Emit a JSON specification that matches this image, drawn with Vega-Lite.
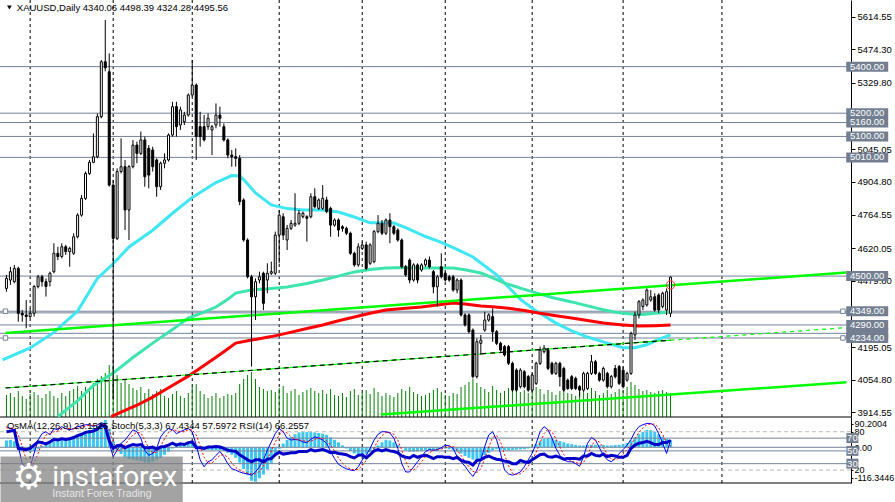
{
"$schema": "https://vega.github.io/schema/vega-lite/v6.json",
"width": 851, "height": 483,
"autosize": {"type": "none"},
"padding": {"left": 0, "top": 0, "right": 44, "bottom": 19},
"background": "#ffffff",
"config": {"view": {"stroke": null}, "font": "Liberation Sans"},
"datasets": {
"bars": [
{"i":-6,"o":4447,"h":4505,"l":4433,"c":4490,"vol":220000,"osma":22,"k":88,"d":86,"rsi":80},
{"i":-5,"o":4483,"h":4540,"l":4462,"c":4519,"vol":240000,"osma":24,"k":85,"d":86,"rsi":81},
{"i":-4,"o":4476,"h":4548,"l":4469,"c":4533,"vol":200000,"osma":20,"k":83,"d":85,"rsi":82},
{"i":-3,"o":4533,"h":4540,"l":4304,"c":4340,"vol":260000,"osma":10,"k":57,"d":75,"rsi":54},
{"i":-2,"o":4340,"h":4354,"l":4304,"c":4333,"vol":210000,"osma":3,"k":30,"d":57,"rsi":53},
{"i":-1,"o":4333,"h":4397,"l":4276,"c":4326,"vol":180000,"osma":-8,"k":22,"d":36,"rsi":52},
{"i":0,"o":4326,"h":4361,"l":4319,"c":4340,"vol":230000,"osma":-14,"k":25,"d":26,"rsi":54},
{"i":1,"o":4340,"h":4462,"l":4326,"c":4455,"vol":250000,"osma":-12,"k":46,"d":31,"rsi":59},
{"i":2,"o":4455,"h":4505,"l":4447,"c":4497,"vol":220000,"osma":-5,"k":67,"d":46,"rsi":64},
{"i":3,"o":4497,"h":4505,"l":4455,"c":4476,"vol":190000,"osma":5,"k":77,"d":63,"rsi":63},
{"i":4,"o":4476,"h":4490,"l":4412,"c":4455,"vol":230000,"osma":10,"k":80,"d":75,"rsi":61},
{"i":5,"o":4476,"h":4519,"l":4455,"c":4512,"vol":260000,"osma":14,"k":75,"d":77,"rsi":64},
{"i":6,"o":4519,"h":4641,"l":4512,"c":4598,"vol":210000,"osma":18,"k":85,"d":80,"rsi":68},
{"i":7,"o":4598,"h":4626,"l":4569,"c":4584,"vol":190000,"osma":20,"k":83,"d":81,"rsi":67},
{"i":8,"o":4584,"h":4641,"l":4576,"c":4626,"vol":240000,"osma":22,"k":88,"d":85,"rsi":69},
{"i":9,"o":4626,"h":4634,"l":4591,"c":4605,"vol":210000,"osma":24,"k":85,"d":85,"rsi":68},
{"i":10,"o":4605,"h":4626,"l":4540,"c":4619,"vol":260000,"osma":26,"k":83,"d":85,"rsi":69},
{"i":11,"o":4598,"h":4684,"l":4591,"c":4669,"vol":280000,"osma":30,"k":85,"d":84,"rsi":71},
{"i":12,"o":4669,"h":4770,"l":4662,"c":4762,"vol":310000,"osma":36,"k":88,"d":85,"rsi":74},
{"i":13,"o":4762,"h":4848,"l":4755,"c":4834,"vol":260000,"osma":42,"k":89,"d":87,"rsi":76},
{"i":14,"o":4834,"h":4949,"l":4827,"c":4941,"vol":300000,"osma":50,"k":91,"d":89,"rsi":79},
{"i":15,"o":4941,"h":4999,"l":4934,"c":4989,"vol":290000,"osma":56,"k":91,"d":90,"rsi":80},
{"i":16,"o":4989,"h":5113,"l":4985,"c":5013,"vol":340000,"osma":62,"k":88,"d":90,"rsi":81},
{"i":17,"o":5013,"h":5199,"l":5006,"c":5185,"vol":380000,"osma":70,"k":91,"d":90,"rsi":84},
{"i":18,"o":5185,"h":5428,"l":5178,"c":5421,"vol":410000,"osma":80,"k":94,"d":91,"rsi":90},
{"i":19,"o":5421,"h":5600,"l":5380,"c":5395,"vol":440000,"osma":88,"k":92,"d":92,"rsi":88},
{"i":20,"o":5378,"h":5457,"l":4884,"c":4891,"vol":520000,"osma":60,"k":62,"d":83,"rsi":66},
{"i":21,"o":4891,"h":4913,"l":3970,"c":4662,"vol":500000,"osma":20,"k":41,"d":65,"rsi":54},
{"i":22,"o":4662,"h":4963,"l":4655,"c":4949,"vol":420000,"osma":-10,"k":51,"d":51,"rsi":58},
{"i":23,"o":4949,"h":5092,"l":4941,"c":4970,"vol":340000,"osma":-22,"k":62,"d":51,"rsi":59},
{"i":24,"o":4970,"h":4999,"l":4698,"c":4784,"vol":380000,"osma":-32,"k":67,"d":60,"rsi":55},
{"i":25,"o":4784,"h":4977,"l":4655,"c":4970,"vol":330000,"osma":-38,"k":75,"d":68,"rsi":58},
{"i":26,"o":4970,"h":5085,"l":4963,"c":5063,"vol":290000,"osma":-40,"k":83,"d":75,"rsi":60},
{"i":27,"o":5063,"h":5078,"l":4985,"c":5027,"vol":270000,"osma":-42,"k":80,"d":79,"rsi":59},
{"i":28,"o":5027,"h":5121,"l":5020,"c":5085,"vol":300000,"osma":-44,"k":70,"d":78,"rsi":60},
{"i":29,"o":5085,"h":5099,"l":4884,"c":4927,"vol":240000,"osma":-48,"k":51,"d":67,"rsi":55},
{"i":30,"o":5049,"h":5063,"l":4877,"c":4934,"vol":280000,"osma":-50,"k":43,"d":55,"rsi":55},
{"i":31,"o":5042,"h":5056,"l":4949,"c":4970,"vol":230000,"osma":-46,"k":46,"d":47,"rsi":56},
{"i":32,"o":4999,"h":5006,"l":4841,"c":4884,"vol":260000,"osma":-40,"k":54,"d":48,"rsi":53},
{"i":33,"o":4884,"h":4992,"l":4870,"c":4985,"vol":280000,"osma":-34,"k":72,"d":57,"rsi":56},
{"i":34,"o":4985,"h":5027,"l":4963,"c":4999,"vol":210000,"osma":-24,"k":80,"d":69,"rsi":57},
{"i":35,"o":4999,"h":5113,"l":4992,"c":5106,"vol":190000,"osma":-14,"k":85,"d":79,"rsi":59},
{"i":36,"o":5106,"h":5249,"l":5099,"c":5228,"vol":230000,"osma":-4,"k":83,"d":83,"rsi":62},
{"i":37,"o":5228,"h":5249,"l":5099,"c":5142,"vol":260000,"osma":4,"k":77,"d":82,"rsi":59},
{"i":38,"o":5149,"h":5228,"l":5128,"c":5214,"vol":210000,"osma":10,"k":80,"d":80,"rsi":61},
{"i":39,"o":5163,"h":5206,"l":5149,"c":5192,"vol":190000,"osma":14,"k":83,"d":80,"rsi":60},
{"i":40,"o":5192,"h":5285,"l":5185,"c":5278,"vol":240000,"osma":16,"k":85,"d":83,"rsi":63},
{"i":41,"o":5278,"h":5428,"l":5271,"c":5321,"vol":310000,"osma":18,"k":80,"d":83,"rsi":64},
{"i":42,"o":5321,"h":5328,"l":4999,"c":5099,"vol":330000,"osma":8,"k":59,"d":75,"rsi":55},
{"i":43,"o":5142,"h":5206,"l":5056,"c":5099,"vol":260000,"osma":-2,"k":36,"d":58,"rsi":55},
{"i":44,"o":5142,"h":5192,"l":5078,"c":5085,"vol":230000,"osma":-6,"k":25,"d":40,"rsi":54},
{"i":45,"o":5142,"h":5199,"l":5128,"c":5178,"vol":190000,"osma":-8,"k":33,"d":31,"rsi":56},
{"i":46,"o":5128,"h":5149,"l":5020,"c":5142,"vol":210000,"osma":-10,"k":36,"d":31,"rsi":56},
{"i":47,"o":5149,"h":5242,"l":5135,"c":5192,"vol":240000,"osma":-9,"k":43,"d":37,"rsi":57},
{"i":48,"o":5192,"h":5228,"l":5142,"c":5178,"vol":190000,"osma":-10,"k":49,"d":43,"rsi":56},
{"i":49,"o":5142,"h":5156,"l":5078,"c":5085,"vol":210000,"osma":-12,"k":41,"d":44,"rsi":54},
{"i":50,"o":5085,"h":5092,"l":5006,"c":5020,"vol":230000,"osma":-18,"k":30,"d":40,"rsi":51},
{"i":51,"o":5020,"h":5042,"l":4970,"c":5013,"vol":220000,"osma":-24,"k":22,"d":31,"rsi":50},
{"i":52,"o":5013,"h":5049,"l":4970,"c":5006,"vol":240000,"osma":-34,"k":20,"d":24,"rsi":49},
{"i":53,"o":5006,"h":5020,"l":4805,"c":4820,"vol":330000,"osma":-50,"k":17,"d":20,"rsi":44},
{"i":54,"o":4827,"h":4834,"l":4648,"c":4655,"vol":380000,"osma":-70,"k":15,"d":17,"rsi":40},
{"i":55,"o":4655,"h":4662,"l":4490,"c":4497,"vol":420000,"osma":-90,"k":14,"d":15,"rsi":36},
{"i":56,"o":4497,"h":4505,"l":4111,"c":4411,"vol":450000,"osma":-108,"k":12,"d":14,"rsi":33},
{"i":57,"o":4411,"h":4490,"l":4311,"c":4476,"vol":380000,"osma":-111,"k":17,"d":14,"rsi":36},
{"i":58,"o":4483,"h":4519,"l":4469,"c":4497,"vol":300000,"osma":-100,"k":25,"d":18,"rsi":36},
{"i":59,"o":4512,"h":4519,"l":4354,"c":4383,"vol":280000,"osma":-88,"k":36,"d":26,"rsi":33},
{"i":60,"o":4483,"h":4555,"l":4426,"c":4512,"vol":260000,"osma":-72,"k":51,"d":37,"rsi":37},
{"i":61,"o":4512,"h":4562,"l":4505,"c":4519,"vol":270000,"osma":-52,"k":64,"d":50,"rsi":38},
{"i":62,"o":4512,"h":4691,"l":4505,"c":4676,"vol":250000,"osma":-25,"k":77,"d":64,"rsi":44},
{"i":63,"o":4676,"h":4784,"l":4555,"c":4762,"vol":290000,"osma":-5,"k":85,"d":75,"rsi":48},
{"i":64,"o":4755,"h":4770,"l":4655,"c":4676,"vol":310000,"osma":12,"k":80,"d":81,"rsi":45},
{"i":65,"o":4655,"h":4720,"l":4612,"c":4705,"vol":240000,"osma":24,"k":70,"d":78,"rsi":46},
{"i":66,"o":4705,"h":4741,"l":4698,"c":4727,"vol":260000,"osma":34,"k":67,"d":72,"rsi":47},
{"i":67,"o":4719,"h":4856,"l":4712,"c":4727,"vol":280000,"osma":42,"k":68,"d":68,"rsi":47},
{"i":68,"o":4727,"h":4784,"l":4719,"c":4770,"vol":220000,"osma":48,"k":67,"d":67,"rsi":49},
{"i":69,"o":4755,"h":4777,"l":4748,"c":4770,"vol":250000,"osma":50,"k":64,"d":66,"rsi":49},
{"i":70,"o":4755,"h":4762,"l":4648,"c":4748,"vol":270000,"osma":49,"k":63,"d":65,"rsi":49},
{"i":71,"o":4755,"h":4856,"l":4748,"c":4841,"vol":290000,"osma":50,"k":68,"d":65,"rsi":52},
{"i":72,"o":4841,"h":4877,"l":4791,"c":4798,"vol":260000,"osma":48,"k":72,"d":68,"rsi":50},
{"i":73,"o":4791,"h":4834,"l":4784,"c":4827,"vol":240000,"osma":46,"k":70,"d":70,"rsi":51},
{"i":74,"o":4791,"h":4891,"l":4784,"c":4834,"vol":270000,"osma":44,"k":67,"d":70,"rsi":52},
{"i":75,"o":4827,"h":4841,"l":4770,"c":4777,"vol":230000,"osma":40,"k":62,"d":66,"rsi":50},
{"i":76,"o":4791,"h":4798,"l":4669,"c":4719,"vol":280000,"osma":32,"k":49,"d":59,"rsi":47},
{"i":77,"o":4719,"h":4748,"l":4712,"c":4741,"vol":220000,"osma":24,"k":38,"d":50,"rsi":48},
{"i":78,"o":4741,"h":4748,"l":4669,"c":4698,"vol":210000,"osma":16,"k":29,"d":39,"rsi":46},
{"i":79,"o":4712,"h":4719,"l":4691,"c":4705,"vol":240000,"osma":6,"k":25,"d":31,"rsi":45},
{"i":80,"o":4705,"h":4712,"l":4676,"c":4684,"vol":200000,"osma":-4,"k":22,"d":25,"rsi":44},
{"i":81,"o":4684,"h":4691,"l":4591,"c":4598,"vol":260000,"osma":-12,"k":20,"d":22,"rsi":41},
{"i":82,"o":4598,"h":4605,"l":4540,"c":4548,"vol":280000,"osma":-20,"k":19,"d":20,"rsi":39},
{"i":83,"o":4548,"h":4641,"l":4540,"c":4626,"vol":220000,"osma":-24,"k":25,"d":21,"rsi":43},
{"i":84,"o":4619,"h":4648,"l":4612,"c":4634,"vol":240000,"osma":-25,"k":36,"d":27,"rsi":44},
{"i":85,"o":4634,"h":4648,"l":4526,"c":4533,"vol":270000,"osma":-22,"k":43,"d":35,"rsi":39},
{"i":86,"o":4555,"h":4641,"l":4548,"c":4634,"vol":230000,"osma":-16,"k":54,"d":44,"rsi":44},
{"i":87,"o":4562,"h":4698,"l":4555,"c":4691,"vol":290000,"osma":-6,"k":67,"d":55,"rsi":50},
{"i":88,"o":4691,"h":4762,"l":4684,"c":4727,"vol":250000,"osma":6,"k":76,"d":66,"rsi":52},
{"i":89,"o":4727,"h":4741,"l":4676,"c":4684,"vol":210000,"osma":16,"k":80,"d":74,"rsi":50},
{"i":90,"o":4684,"h":4748,"l":4676,"c":4741,"vol":240000,"osma":24,"k":80,"d":79,"rsi":52},
{"i":91,"o":4741,"h":4770,"l":4641,"c":4712,"vol":220000,"osma":22,"k":78,"d":79,"rsi":50},
{"i":92,"o":4712,"h":4719,"l":4676,"c":4684,"vol":200000,"osma":16,"k":70,"d":76,"rsi":49},
{"i":93,"o":4698,"h":4705,"l":4648,"c":4655,"vol":240000,"osma":8,"k":54,"d":67,"rsi":47},
{"i":94,"o":4655,"h":4662,"l":4533,"c":4540,"vol":280000,"osma":-2,"k":30,"d":51,"rsi":42},
{"i":95,"o":4540,"h":4548,"l":4497,"c":4505,"vol":260000,"osma":-10,"k":17,"d":34,"rsi":40},
{"i":96,"o":4569,"h":4576,"l":4469,"c":4483,"vol":300000,"osma":-14,"k":17,"d":21,"rsi":39},
{"i":97,"o":4483,"h":4555,"l":4476,"c":4548,"vol":250000,"osma":-14,"k":25,"d":20,"rsi":43},
{"i":98,"o":4548,"h":4555,"l":4469,"c":4483,"vol":230000,"osma":-13,"k":33,"d":25,"rsi":40},
{"i":99,"o":4526,"h":4555,"l":4519,"c":4548,"vol":210000,"osma":-12,"k":41,"d":33,"rsi":42},
{"i":100,"o":4548,"h":4576,"l":4540,"c":4569,"vol":220000,"osma":-10,"k":49,"d":41,"rsi":43},
{"i":101,"o":4569,"h":4584,"l":4533,"c":4540,"vol":240000,"osma":-8,"k":52,"d":47,"rsi":41},
{"i":102,"o":4519,"h":4526,"l":4426,"c":4454,"vol":270000,"osma":-10,"k":51,"d":51,"rsi":38},
{"i":103,"o":4454,"h":4505,"l":4369,"c":4497,"vol":290000,"osma":-12,"k":52,"d":52,"rsi":41},
{"i":104,"o":4540,"h":4598,"l":4490,"c":4497,"vol":250000,"osma":-6,"k":55,"d":53,"rsi":41},
{"i":105,"o":4512,"h":4519,"l":4476,"c":4483,"vol":220000,"osma":-4,"k":59,"d":55,"rsi":40},
{"i":106,"o":4497,"h":4505,"l":4476,"c":4483,"vol":210000,"osma":-6,"k":58,"d":57,"rsi":40},
{"i":107,"o":4497,"h":4505,"l":4433,"c":4440,"vol":240000,"osma":-10,"k":54,"d":57,"rsi":38},
{"i":108,"o":4440,"h":4490,"l":4426,"c":4483,"vol":230000,"osma":-14,"k":41,"d":51,"rsi":40},
{"i":109,"o":4483,"h":4490,"l":4326,"c":4333,"vol":300000,"osma":-20,"k":33,"d":43,"rsi":35},
{"i":110,"o":4333,"h":4340,"l":4283,"c":4290,"vol":320000,"osma":-28,"k":26,"d":33,"rsi":33},
{"i":111,"o":4333,"h":4340,"l":4254,"c":4261,"vol":350000,"osma":-34,"k":17,"d":25,"rsi":32},
{"i":112,"o":4268,"h":4275,"l":4060,"c":4068,"vol":380000,"osma":-40,"k":10,"d":18,"rsi":28},
{"i":113,"o":4068,"h":4232,"l":4060,"c":4218,"vol":340000,"osma":-41,"k":20,"d":16,"rsi":35},
{"i":114,"o":4211,"h":4247,"l":4161,"c":4225,"vol":300000,"osma":-36,"k":36,"d":22,"rsi":36},
{"i":115,"o":4268,"h":4347,"l":4261,"c":4311,"vol":280000,"osma":-26,"k":57,"d":38,"rsi":40},
{"i":116,"o":4311,"h":4340,"l":4304,"c":4333,"vol":250000,"osma":-18,"k":75,"d":56,"rsi":42},
{"i":117,"o":4326,"h":4361,"l":4218,"c":4261,"vol":310000,"osma":-10,"k":80,"d":71,"rsi":39},
{"i":118,"o":4261,"h":4268,"l":4204,"c":4211,"vol":270000,"osma":-6,"k":67,"d":74,"rsi":37},
{"i":119,"o":4211,"h":4218,"l":4175,"c":4182,"vol":240000,"osma":-8,"k":46,"d":64,"rsi":36},
{"i":120,"o":4197,"h":4204,"l":4154,"c":4161,"vol":260000,"osma":-9,"k":20,"d":44,"rsi":34},
{"i":121,"o":4197,"h":4204,"l":4118,"c":4125,"vol":290000,"osma":-10,"k":14,"d":27,"rsi":33},
{"i":122,"o":4125,"h":4132,"l":4003,"c":4010,"vol":330000,"osma":-9,"k":12,"d":15,"rsi":30},
{"i":123,"o":4096,"h":4104,"l":4003,"c":4010,"vol":280000,"osma":-8,"k":14,"d":13,"rsi":30},
{"i":124,"o":4025,"h":4104,"l":4017,"c":4096,"vol":250000,"osma":-7,"k":17,"d":14,"rsi":35},
{"i":125,"o":4089,"h":4096,"l":4017,"c":4025,"vol":270000,"osma":-6,"k":25,"d":19,"rsi":33},
{"i":126,"o":4068,"h":4075,"l":4003,"c":4010,"vol":240000,"osma":-4,"k":36,"d":26,"rsi":32},
{"i":127,"o":4010,"h":4082,"l":4003,"c":4075,"vol":260000,"osma":2,"k":46,"d":36,"rsi":36},
{"i":128,"o":4039,"h":4132,"l":4032,"c":4125,"vol":300000,"osma":10,"k":62,"d":48,"rsi":40},
{"i":129,"o":4125,"h":4197,"l":4118,"c":4182,"vol":280000,"osma":20,"k":80,"d":63,"rsi":44},
{"i":130,"o":4175,"h":4204,"l":4168,"c":4190,"vol":230000,"osma":27,"k":88,"d":77,"rsi":45},
{"i":131,"o":4182,"h":4190,"l":4096,"c":4103,"vol":270000,"osma":29,"k":83,"d":84,"rsi":41},
{"i":132,"o":4125,"h":4132,"l":4075,"c":4082,"vol":250000,"osma":28,"k":70,"d":80,"rsi":40},
{"i":133,"o":4082,"h":4132,"l":4075,"c":4125,"vol":220000,"osma":24,"k":54,"d":69,"rsi":42},
{"i":134,"o":4125,"h":4132,"l":4025,"c":4068,"vol":260000,"osma":20,"k":43,"d":56,"rsi":40},
{"i":135,"o":4103,"h":4111,"l":4003,"c":4010,"vol":290000,"osma":16,"k":36,"d":44,"rsi":37},
{"i":136,"o":4053,"h":4060,"l":4010,"c":4017,"vol":240000,"osma":12,"k":33,"d":37,"rsi":38},
{"i":137,"o":4068,"h":4075,"l":4010,"c":4017,"vol":230000,"osma":10,"k":33,"d":34,"rsi":38},
{"i":138,"o":4060,"h":4068,"l":4010,"c":4017,"vol":210000,"osma":8,"k":30,"d":32,"rsi":38},
{"i":139,"o":4025,"h":4032,"l":3982,"c":4010,"vol":250000,"osma":6,"k":26,"d":30,"rsi":37},
{"i":140,"o":4010,"h":4089,"l":4003,"c":4082,"vol":270000,"osma":6,"k":41,"d":32,"rsi":42},
{"i":141,"o":4017,"h":4089,"l":4010,"c":4082,"vol":240000,"osma":7,"k":62,"d":43,"rsi":42},
{"i":142,"o":4082,"h":4161,"l":4075,"c":4132,"vol":290000,"osma":8,"k":71,"d":58,"rsi":46},
{"i":143,"o":4132,"h":4140,"l":4075,"c":4082,"vol":260000,"osma":8,"k":67,"d":67,"rsi":43},
{"i":144,"o":4082,"h":4089,"l":4046,"c":4053,"vol":220000,"osma":7,"k":55,"d":64,"rsi":42},
{"i":145,"o":4053,"h":4111,"l":4046,"c":4103,"vol":240000,"osma":7,"k":43,"d":55,"rsi":45},
{"i":146,"o":4082,"h":4089,"l":4017,"c":4025,"vol":270000,"osma":6,"k":36,"d":45,"rsi":41},
{"i":147,"o":4025,"h":4075,"l":4017,"c":4068,"vol":230000,"osma":6,"k":33,"d":37,"rsi":43},
{"i":148,"o":4103,"h":4118,"l":4060,"c":4068,"vol":250000,"osma":7,"k":38,"d":36,"rsi":42},
{"i":149,"o":4111,"h":4118,"l":4032,"c":4039,"vol":280000,"osma":8,"k":46,"d":39,"rsi":40},
{"i":150,"o":4096,"h":4111,"l":4017,"c":4025,"vol":260000,"osma":10,"k":52,"d":45,"rsi":40},
{"i":151,"o":4053,"h":4089,"l":4046,"c":4082,"vol":300000,"osma":14,"k":59,"d":52,"rsi":43},
{"i":152,"o":4082,"h":4261,"l":4075,"c":4254,"vol":350000,"osma":22,"k":68,"d":60,"rsi":54},
{"i":153,"o":4247,"h":4347,"l":4225,"c":4333,"vol":320000,"osma":32,"k":80,"d":69,"rsi":59},
{"i":154,"o":4333,"h":4397,"l":4318,"c":4390,"vol":280000,"osma":42,"k":88,"d":79,"rsi":62},
{"i":155,"o":4369,"h":4404,"l":4354,"c":4397,"vol":260000,"osma":50,"k":91,"d":86,"rsi":63},
{"i":156,"o":4376,"h":4447,"l":4369,"c":4440,"vol":270000,"osma":56,"k":93,"d":91,"rsi":65},
{"i":157,"o":4397,"h":4440,"l":4390,"c":4411,"vol":250000,"osma":55,"k":93,"d":92,"rsi":63},
{"i":158,"o":4411,"h":4426,"l":4347,"c":4354,"vol":240000,"osma":50,"k":89,"d":92,"rsi":60},
{"i":159,"o":4419,"h":4426,"l":4340,"c":4354,"vol":260000,"osma":42,"k":77,"d":86,"rsi":60},
{"i":160,"o":4369,"h":4433,"l":4361,"c":4426,"vol":270000,"osma":34,"k":62,"d":76,"rsi":63},
{"i":161,"o":4354,"h":4447,"l":4333,"c":4433,"vol":250000,"osma":28,"k":46,"d":62,"rsi":63},
{"i":162,"o":4340.06,"h":4498.39,"l":4324.28,"c":4495.56,"vol":240000,"osma":23.1525,"k":67.4344,"d":57.5972,"rsi":66.2557}
],
"maFast": [
{"i":-7,"v":4140},{"i":0,"v":4191},{"i":6,"v":4258},{"i":12,"v":4350},{"i":17,"v":4490},{"i":21,"v":4553},{"i":25,"v":4625},{"i":31,"v":4697},{"i":36,"v":4770},{"i":41,"v":4838},{"i":47,"v":4902},{"i":51,"v":4932},{"i":53,"v":4930},{"i":54,"v":4915},{"i":57,"v":4857},{"i":61,"v":4806},{"i":65,"v":4790},{"i":69,"v":4784},{"i":74,"v":4784},{"i":78,"v":4775},{"i":82,"v":4754},{"i":86,"v":4729},{"i":92,"v":4728},{"i":95,"v":4708},{"i":100,"v":4670},{"i":104,"v":4645},{"i":108,"v":4615},{"i":112,"v":4582},{"i":118,"v":4505},{"i":124,"v":4400},{"i":128,"v":4350},{"i":133,"v":4298},{"i":137,"v":4265},{"i":141,"v":4238},{"i":146,"v":4212},{"i":150,"v":4192},{"i":153,"v":4192},{"i":156,"v":4205},{"i":159,"v":4228},{"i":162,"v":4247}
],
"maMid": [
{"i":7,"v":3896},{"i":12,"v":3965},{"i":16,"v":4030},{"i":21,"v":4083},{"i":26,"v":4150},{"i":31,"v":4212},{"i":36,"v":4270},{"i":40,"v":4320},{"i":44,"v":4345},{"i":47,"v":4367},{"i":50,"v":4400},{"i":52,"v":4427},{"i":56,"v":4440},{"i":61,"v":4447},{"i":65,"v":4453},{"i":70,"v":4468},{"i":74,"v":4483},{"i":78,"v":4500},{"i":82,"v":4518},{"i":86,"v":4528},{"i":90,"v":4535},{"i":95,"v":4537},{"i":99,"v":4535},{"i":103,"v":4535},{"i":107,"v":4535},{"i":110,"v":4527},{"i":114,"v":4513},{"i":117,"v":4492},{"i":120,"v":4470},{"i":124,"v":4448},{"i":128,"v":4428},{"i":132,"v":4408},{"i":137,"v":4389},{"i":141,"v":4372},{"i":145,"v":4355},{"i":149,"v":4342},{"i":152,"v":4337},{"i":155,"v":4335},{"i":158,"v":4340},{"i":162,"v":4346}
],
"maSlow": [
{"i":20.5,"v":3896},{"i":23,"v":3915},{"i":27,"v":3945},{"i":31,"v":3980},{"i":35,"v":4020},{"i":40,"v":4070},{"i":45,"v":4128},{"i":49,"v":4175},{"i":52,"v":4212},{"i":56,"v":4225},{"i":61,"v":4240},{"i":65,"v":4255},{"i":70,"v":4275},{"i":74,"v":4290},{"i":78,"v":4308},{"i":82,"v":4324},{"i":86,"v":4340},{"i":90,"v":4354},{"i":95,"v":4362},{"i":99,"v":4367},{"i":103,"v":4376},{"i":107,"v":4384},{"i":110,"v":4380},{"i":114,"v":4371},{"i":117,"v":4368},{"i":121,"v":4362},{"i":125,"v":4352},{"i":129,"v":4340},{"i":133,"v":4330},{"i":137,"v":4320},{"i":141,"v":4309},{"i":145,"v":4298},{"i":150,"v":4290},{"i":154,"v":4285},{"i":158,"v":4287},{"i":162,"v":4290}
],
"trends": [
{"t":"t1","i":-6.25,"p":4255.4},{"t":"t1","i":206.5,"p":4514.9},
{"t":"t2","i":88.75,"p":3905.2},{"t":"t2","i":206.5,"p":4043.6}
],
"channel": [{"i":-6.25,"p":4019.1},{"i":162,"p":4224.4}],
"channelExt": [{"i":162,"p":4224.4},{"i":206.5,"p":4278.6}],
"levels": [
{"p":5400,"b":1},{"p":5200,"b":1},{"p":5160,"b":1},{"p":5100,"b":1},{"p":5010,"b":1},{"p":4500,"b":1},{"p":4254,"b":2},{"p":4342,"b":0},{"p":4349,"b":1},{"p":4290,"b":1},{"p":4234,"b":1}
],
"anchors": [{"i":-6.25,"p":4349},{"i":205.6,"p":4349},{"i":-6.25,"p":4234},{"i":205.6,"p":4234}],
"months": [{"i":0},{"i":21},{"i":41},{"i":63},{"i":84},{"i":105},{"i":127},{"i":150},{"i":175}],
"osc": [{"v":80,"t":"d"},{"v":20,"t":"d"},{"v":70,"t":"s"},{"v":50,"t":"s"},{"v":30,"t":"s"}]
},
"layer": [
{"data": {"name": "months"}, "mark": {"type": "rule", "color": "#000000", "strokeDash": [3, 3], "strokeWidth": 1},
 "encoding": {"x": {"field": "i", "type": "quantitative", "scale": {"domain": [-7, 205.75], "range": [-2.5, 848.5], "zero": false, "nice": false}, "axis": null}}},
{"data": {"name": "bars"}, "mark": {"type": "rule", "color": "#008000", "strokeWidth": 1},
 "encoding": {"x": {"field": "i", "type": "quantitative", "scale": {"domain": [-7, 205.75], "range": [-2.5, 848.5], "zero": false, "nice": false}, "axis": null},
  "y": {"field": "vol", "type": "quantitative", "scale": {"domain": [0, 1000000], "range": [417, 317], "zero": false, "nice": false}, "axis": null},
  "y2": {"datum": 0}}},
{"data": {"name": "bars"}, "mark": {"type": "bar", "color": "#3ec6f2", "width": 3},
 "encoding": {"x": {"field": "i", "type": "quantitative", "scale": {"domain": [-7, 205.75], "range": [-2.5, 848.5], "zero": false, "nice": false}, "axis": null},
  "y": {"field": "osma", "type": "quantitative", "scale": {"domain": [-115.2, 97.7], "range": [483, 417], "zero": false, "nice": false},
   "axis": {"orient": "right", "values": [75.2, 50.3, 0, -73.2, -98], "labelExpr": "datum.value > 60 ? '90.2004' : datum.value > 25 ? '80' : datum.value > -25 ? '0.00' : datum.value > -85 ? '20' : '-116.3446'", "domainColor": "#000000", "tickColor": "#000000", "tickSize": 2, "labelFontSize": 9, "labelColor": "#000000", "labelPadding": 1, "title": null, "grid": false, "labelOverlap": false, "labelFlush": false}},
  "y2": {"datum": 0}}},
{"data": {"values": [{"v": 0}]}, "mark": {"type": "rule", "color": "#74829a", "strokeWidth": 1},
 "encoding": {"y": {"field": "v", "type": "quantitative", "scale": {"domain": [-115.2, 97.7], "range": [483, 417], "zero": false, "nice": false}, "axis": null}}},
{"data": {"name": "levels"}, "mark": {"type": "rule", "color": "#74829a", "strokeWidth": 1},
 "encoding": {"y": {"field": "p", "type": "quantitative", "scale": {"domain": [3894.5, 5686.3], "range": [417, 0], "zero": false, "nice": false},
  "axis": {"orient": "right", "values": [5614.55, 5474.30, 5329.80, 5045.05, 4904.80, 4764.55, 4620.05, 4479.80, 4195.05, 4054.80, 3914.55], "format": ".2f", "domainColor": "#000000", "tickColor": "#000000", "tickSize": 4, "labelFontSize": 9.5, "labelColor": "#000000", "labelPadding": 2, "title": null, "grid": false, "labelOverlap": false, "labelFlush": false}}}},
{"data": {"values": [{"p": 3894.5}]}, "mark": {"type": "rule", "color": "#000000", "strokeWidth": 1},
 "encoding": {"y": {"field": "p", "type": "quantitative", "scale": {"domain": [3894.5, 5686.3], "range": [417, 0], "zero": false, "nice": false}, "axis": null}}},
{"data": {"name": "maFast"}, "mark": {"type": "line", "color": "#3fe6f4", "strokeWidth": 3},
 "encoding": {"x": {"field": "i", "type": "quantitative", "scale": {"domain": [-7, 205.75], "range": [-2.5, 848.5], "zero": false, "nice": false}, "axis": null},
  "y": {"field": "v", "type": "quantitative", "scale": {"domain": [3894.5, 5686.3], "range": [417, 0], "zero": false, "nice": false}, "axis": null}}},
{"data": {"name": "maMid"}, "mark": {"type": "line", "color": "#3ee4ae", "strokeWidth": 3},
 "encoding": {"x": {"field": "i", "type": "quantitative", "scale": {"domain": [-7, 205.75], "range": [-2.5, 848.5], "zero": false, "nice": false}, "axis": null},
  "y": {"field": "v", "type": "quantitative", "scale": {"domain": [3894.5, 5686.3], "range": [417, 0], "zero": false, "nice": false}, "axis": null}}},
{"data": {"name": "maSlow"}, "mark": {"type": "line", "color": "#ff0000", "strokeWidth": 3},
 "encoding": {"x": {"field": "i", "type": "quantitative", "scale": {"domain": [-7, 205.75], "range": [-2.5, 848.5], "zero": false, "nice": false}, "axis": null},
  "y": {"field": "v", "type": "quantitative", "scale": {"domain": [3894.5, 5686.3], "range": [417, 0], "zero": false, "nice": false}, "axis": null}}},
{"data": {"name": "trends"}, "mark": {"type": "line", "color": "#00ff00", "strokeWidth": 2.5},
 "encoding": {"x": {"field": "i", "type": "quantitative", "scale": {"domain": [-7, 205.75], "range": [-2.5, 848.5], "zero": false, "nice": false}, "axis": null},
  "y": {"field": "p", "type": "quantitative", "scale": {"domain": [3894.5, 5686.3], "range": [417, 0], "zero": false, "nice": false}, "axis": null},
  "detail": {"field": "t"}}},
{"data": {"name": "channel"}, "mark": {"type": "line", "color": "#00ff00", "strokeWidth": 1.2},
 "encoding": {"x": {"field": "i", "type": "quantitative", "scale": {"domain": [-7, 205.75], "range": [-2.5, 848.5], "zero": false, "nice": false}, "axis": null},
  "y": {"field": "p", "type": "quantitative", "scale": {"domain": [3894.5, 5686.3], "range": [417, 0], "zero": false, "nice": false}, "axis": null}}},
{"data": {"name": "channel"}, "mark": {"type": "line", "color": "#000000", "strokeWidth": 1.2, "strokeDash": [5, 4]},
 "encoding": {"x": {"field": "i", "type": "quantitative", "scale": {"domain": [-7, 205.75], "range": [-2.5, 848.5], "zero": false, "nice": false}, "axis": null},
  "y": {"field": "p", "type": "quantitative", "scale": {"domain": [3894.5, 5686.3], "range": [417, 0], "zero": false, "nice": false}, "axis": null}}},
{"data": {"name": "channelExt"}, "mark": {"type": "line", "color": "#00ff00", "strokeWidth": 1.2, "strokeDash": [4, 4]},
 "encoding": {"x": {"field": "i", "type": "quantitative", "scale": {"domain": [-7, 205.75], "range": [-2.5, 848.5], "zero": false, "nice": false}, "axis": null},
  "y": {"field": "p", "type": "quantitative", "scale": {"domain": [3894.5, 5686.3], "range": [417, 0], "zero": false, "nice": false}, "axis": null}}},
{"data": {"name": "bars"}, "mark": {"type": "rule", "color": "#000000", "strokeWidth": 1},
 "encoding": {"x": {"field": "i", "type": "quantitative", "scale": {"domain": [-7, 205.75], "range": [-2.5, 848.5], "zero": false, "nice": false}, "axis": null},
  "y": {"field": "l", "type": "quantitative", "scale": {"domain": [3894.5, 5686.3], "range": [417, 0], "zero": false, "nice": false}, "axis": null},
  "y2": {"field": "h"}}},
{"data": {"name": "bars"}, "mark": {"type": "bar", "width": 2, "stroke": "#000000", "strokeWidth": 1},
 "encoding": {"x": {"field": "i", "type": "quantitative", "scale": {"domain": [-7, 205.75], "range": [-2.5, 848.5], "zero": false, "nice": false},
   "axis": {"orient": "bottom", "values": [-7, 9, 25, 41, 57, 73, 89, 105, 121, 137, 153], "labelExpr": "['22 Dec 2025','15 Jan 2026','6 Feb 2026','2 Mar 2026','24 Mar 2026','16 Apr 2026','8 May 2026','1 Jun 2026','23 Jun 2026','15 Jul 2026','6 Aug 2026'][round((datum.value + 7) / 16)]", "labelAlign": "left", "labelBaseline": "top", "labelFontSize": 9.5, "labelColor": "#000000", "ticks": false, "domain": false, "grid": false, "title": null, "labelPadding": 5, "labelOverlap": false, "labelFlush": false}},
  "y": {"field": "o", "type": "quantitative", "scale": {"domain": [3894.5, 5686.3], "range": [417, 0], "zero": false, "nice": false}, "axis": null},
  "y2": {"field": "c"},
  "fill": {"condition": {"test": "datum.c >= datum.o", "value": "#ffffff"}, "value": "#000000"}}},
{"data": {"name": "levels"}, "transform": [{"filter": "datum.b >= 1"}], "mark": {"type": "tick", "orient": "horizontal", "size": 42, "thickness": 10, "color": "#737f91", "opacity": 1},
 "encoding": {"x": {"datum": 211.75, "type": "quantitative", "scale": {"domain": [-7, 205.75], "range": [-2.5, 848.5], "zero": false, "nice": false}, "axis": null},
  "y": {"field": "p", "type": "quantitative", "scale": {"domain": [3894.5, 5686.3], "range": [417, 0], "zero": false, "nice": false}, "axis": null}}},
{"data": {"name": "levels"}, "transform": [{"filter": "datum.b == 1"}], "mark": {"type": "text", "color": "#ffffff", "fontSize": 9.5, "align": "center", "baseline": "middle"},
 "encoding": {"x": {"datum": 211.75, "type": "quantitative", "scale": {"domain": [-7, 205.75], "range": [-2.5, 848.5], "zero": false, "nice": false}, "axis": null},
  "y": {"field": "p", "type": "quantitative", "scale": {"domain": [3894.5, 5686.3], "range": [417, 0], "zero": false, "nice": false}, "axis": null},
  "text": {"field": "p", "type": "quantitative", "format": ".2f"}}},
{"data": {"name": "anchors"}, "mark": {"type": "point", "shape": "square", "filled": true, "fill": "#ffffff", "stroke": "#74829a", "strokeWidth": 1, "size": 20, "opacity": 1},
 "encoding": {"x": {"field": "i", "type": "quantitative", "scale": {"domain": [-7, 205.75], "range": [-2.5, 848.5], "zero": false, "nice": false}, "axis": null},
  "y": {"field": "p", "type": "quantitative", "scale": {"domain": [3894.5, 5686.3], "range": [417, 0], "zero": false, "nice": false}, "axis": null}}},
{"data": {"values": [{"i": 162, "p": 4462}]}, "mark": {"type": "point", "shape": "circle", "filled": false, "stroke": "#ff3333", "strokeWidth": 1, "size": 70, "opacity": 1},
 "encoding": {"x": {"field": "i", "type": "quantitative", "scale": {"domain": [-7, 205.75], "range": [-2.5, 848.5], "zero": false, "nice": false}, "axis": null},
  "y": {"field": "p", "type": "quantitative", "scale": {"domain": [3894.5, 5686.3], "range": [417, 0], "zero": false, "nice": false}, "axis": null}}},
{"data": {"values": [{"t": "XAUUSD,Daily  4340.06 4498.39 4324.28 4495.56"}]}, "mark": {"type": "text", "color": "#000000", "fontSize": 9.5, "align": "left", "baseline": "middle"},
 "encoding": {"x": {"datum": -3.375, "type": "quantitative", "scale": {"domain": [-7, 205.75], "range": [-2.5, 848.5], "zero": false, "nice": false}, "axis": null},
  "y": {"datum": 5654, "type": "quantitative", "scale": {"domain": [3894.5, 5686.3], "range": [417, 0], "zero": false, "nice": false}, "axis": null},
  "text": {"field": "t"}}},
{"data": {"values": [{"t": "a"}]}, "mark": {"type": "point", "shape": "triangle-down", "filled": true, "color": "#000000", "size": 22, "opacity": 1},
 "encoding": {"x": {"datum": -5.25, "type": "quantitative", "scale": {"domain": [-7, 205.75], "range": [-2.5, 848.5], "zero": false, "nice": false}, "axis": null},
  "y": {"datum": 5654, "type": "quantitative", "scale": {"domain": [3894.5, 5686.3], "range": [417, 0], "zero": false, "nice": false}, "axis": null}}},
{"data": {"name": "osc"}, "transform": [{"filter": "datum.t == 'd'"}], "mark": {"type": "rule", "color": "#b9b9b9", "strokeWidth": 1, "strokeDash": [4, 3]},
 "encoding": {"y": {"field": "v", "type": "quantitative", "scale": {"domain": [-0.3, 103.1], "range": [483, 417], "zero": false, "nice": false}, "axis": null}}},
{"data": {"name": "osc"}, "transform": [{"filter": "datum.t == 's'"}], "mark": {"type": "rule", "color": "#74829a", "strokeWidth": 1},
 "encoding": {"y": {"field": "v", "type": "quantitative", "scale": {"domain": [-0.3, 103.1], "range": [483, 417], "zero": false, "nice": false}, "axis": null}}},
{"data": {"values": [{"v": -0.3}]}, "mark": {"type": "rule", "color": "#000000", "strokeWidth": 1},
 "encoding": {"y": {"field": "v", "type": "quantitative", "scale": {"domain": [-0.3, 103.1], "range": [483, 417], "zero": false, "nice": false}, "axis": null}}},
{"data": {"name": "bars"}, "mark": {"type": "line", "color": "#0000ff", "strokeWidth": 1},
 "encoding": {"x": {"field": "i", "type": "quantitative", "scale": {"domain": [-7, 205.75], "range": [-2.5, 848.5], "zero": false, "nice": false}, "axis": null},
  "y": {"field": "k", "type": "quantitative", "scale": {"domain": [-0.3, 103.1], "range": [483, 417], "zero": false, "nice": false}, "axis": null}}},
{"data": {"name": "bars"}, "mark": {"type": "line", "color": "#ff0000", "strokeWidth": 1, "strokeDash": [2, 2]},
 "encoding": {"x": {"field": "i", "type": "quantitative", "scale": {"domain": [-7, 205.75], "range": [-2.5, 848.5], "zero": false, "nice": false}, "axis": null},
  "y": {"field": "d", "type": "quantitative", "scale": {"domain": [-0.3, 103.1], "range": [483, 417], "zero": false, "nice": false}, "axis": null}}},
{"data": {"name": "bars"}, "mark": {"type": "line", "color": "#0000c8", "strokeWidth": 3},
 "encoding": {"x": {"field": "i", "type": "quantitative", "scale": {"domain": [-7, 205.75], "range": [-2.5, 848.5], "zero": false, "nice": false}, "axis": null},
  "y": {"field": "rsi", "type": "quantitative", "scale": {"domain": [-0.3, 103.1], "range": [483, 417], "zero": false, "nice": false}, "axis": null}}},
{"data": {"values": [{"t": "OsMA(12,26,9) 23.1525  Stoch(5,3,3) 67.4344 57.5972  RSI(14) 66.2557"}]}, "mark": {"type": "text", "color": "#000000", "fontSize": 9.5, "align": "left", "baseline": "middle"},
 "encoding": {"x": {"datum": -5.875, "type": "quantitative", "scale": {"domain": [-7, 205.75], "range": [-2.5, 848.5], "zero": false, "nice": false}, "axis": null},
  "y": {"datum": 89, "type": "quantitative", "scale": {"domain": [-0.3, 103.1], "range": [483, 417], "zero": false, "nice": false}, "axis": null},
  "text": {"field": "t"}}},
{"data": {"name": "osc"}, "transform": [{"filter": "datum.t == 's'"}], "mark": {"type": "tick", "orient": "horizontal", "size": 12, "thickness": 10, "color": "#737f91", "opacity": 1},
 "encoding": {"x": {"datum": 208, "type": "quantitative", "scale": {"domain": [-7, 205.75], "range": [-2.5, 848.5], "zero": false, "nice": false}, "axis": null},
  "y": {"field": "v", "type": "quantitative", "scale": {"domain": [-0.3, 103.1], "range": [483, 417], "zero": false, "nice": false}, "axis": null}}},
{"data": {"name": "osc"}, "transform": [{"filter": "datum.t == 's'"}], "mark": {"type": "text", "color": "#ffffff", "fontSize": 9.5, "align": "center", "baseline": "middle"},
 "encoding": {"x": {"datum": 208, "type": "quantitative", "scale": {"domain": [-7, 205.75], "range": [-2.5, 848.5], "zero": false, "nice": false}, "axis": null},
  "y": {"field": "v", "type": "quantitative", "scale": {"domain": [-0.3, 103.1], "range": [483, 417], "zero": false, "nice": false}, "axis": null},
  "text": {"field": "v", "type": "quantitative"}}},
{"data": {"values": [{"t": "box"}]}, "mark": {"type": "rect", "color": "#808080", "opacity": 0.72},
 "encoding": {"x": {"datum": -7.5, "type": "quantitative", "scale": {"domain": [-7, 205.75], "range": [-2.5, 848.5], "zero": false, "nice": false}, "axis": null},
  "x2": {"datum": 38.6},
  "y": {"datum": 41.2, "type": "quantitative", "scale": {"domain": [-0.3, 103.1], "range": [483, 417], "zero": false, "nice": false}, "axis": null},
  "y2": {"datum": -40}}},
{"data": {"values": [{"t": "⚙"}]}, "mark": {"type": "text", "color": "#ffffff", "font": "DejaVu Sans", "fontSize": 36, "align": "center", "baseline": "middle"},
 "encoding": {"x": {"datum": -0.375, "type": "quantitative", "scale": {"domain": [-7, 205.75], "range": [-2.5, 848.5], "zero": false, "nice": false}, "axis": null},
  "y": {"datum": 7.5, "type": "quantitative", "scale": {"domain": [-0.3, 103.1], "range": [483, 417], "zero": false, "nice": false}, "axis": null},
  "text": {"field": "t"}}},
{"data": {"values": [{"t": "instaforex"}]}, "mark": {"type": "text", "color": "#ffffff", "font": "Roboto", "fontSize": 28, "align": "left", "baseline": "alphabetic"},
 "encoding": {"x": {"datum": 5.6, "type": "quantitative", "scale": {"domain": [-7, 205.75], "range": [-2.5, 848.5], "zero": false, "nice": false}, "axis": null},
  "y": {"datum": -5, "type": "quantitative", "scale": {"domain": [-0.3, 103.1], "range": [483, 417], "zero": false, "nice": false}, "axis": null},
  "text": {"field": "t"}}},
{"data": {"values": [{"t": "Instant Forex Trading"}]}, "mark": {"type": "text", "color": "#e6e6e6", "fontSize": 10.5, "align": "left", "baseline": "alphabetic"},
 "encoding": {"x": {"datum": 5.6, "type": "quantitative", "scale": {"domain": [-7, 205.75], "range": [-2.5, 848.5], "zero": false, "nice": false}, "axis": null},
  "y": {"datum": -22.3, "type": "quantitative", "scale": {"domain": [-0.3, 103.1], "range": [483, 417], "zero": false, "nice": false}, "axis": null},
  "text": {"field": "t"}}}
],
"resolve": {"scale": {"y": "independent"}, "axis": {"y": "independent"}}
}
